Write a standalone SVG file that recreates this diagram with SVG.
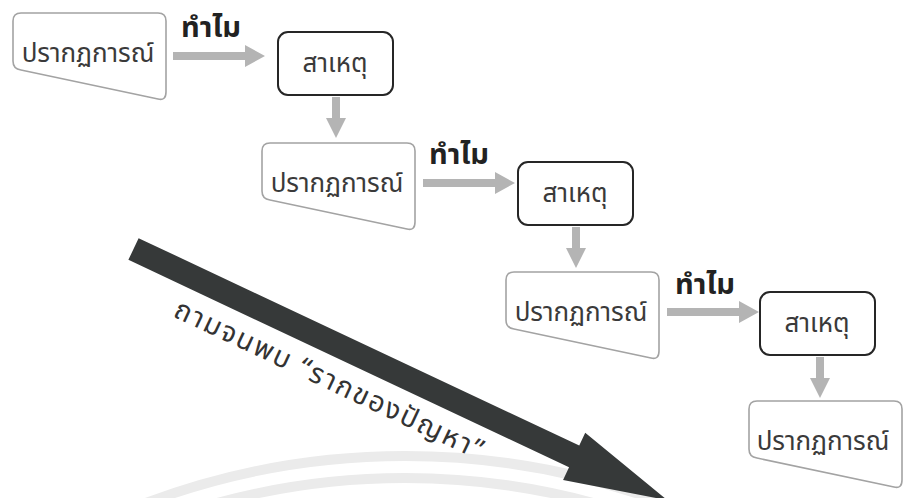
<svg xmlns="http://www.w3.org/2000/svg" width="903" height="498" viewBox="0 0 903 498">
<style>
.phen{fill:#fff;stroke:#a3a3a3;stroke-width:1.6}
.cause{fill:#fff;stroke:#262626;stroke-width:2}
.t{font-family:"Noto Sans Thai","Noto Sans","DejaVu Sans",sans-serif;fill:#3a3a3a;text-anchor:middle}
.pt{font-size:26px}
.ct{font-size:26px}
.why{font-family:"Noto Sans Thai","Noto Sans","DejaVu Sans",sans-serif;font-weight:bold;font-size:29px;fill:#222}
.ga{fill:#b4b4b4}
.arc{fill:none;stroke:#ebebeb;stroke-width:10}
</style>
<defs>
<path id="phenShape" d="M8,0 H145 Q153,0 153,8 V79 Q153,88 145,86 L8,57 Q0,56 0,48 V8 Q0,0 8,0 Z"/>
<path id="hArrow" d="M0,-4 H72 V-11 L92,0 L72,11 V4 H0 Z"/>
<path id="vArrow" d="M-4,0 V21 H-10 L0,41 L10,21 H4 V0 Z"/>
</defs>
<rect width="903" height="498" fill="#fff"/>
<g id="watermark">
<circle class="arc" cx="405" cy="1194" r="738"/>
<circle class="arc" cx="405" cy="1194" r="716"/>
</g>
<g id="connectors">
<use href="#hArrow" class="ga" x="173" y="56"/>
<use href="#vArrow" class="ga" x="336" y="97"/>
<use href="#hArrow" class="ga" x="423" y="183"/>
<use href="#vArrow" class="ga" x="576" y="227"/>
<use href="#hArrow" class="ga" x="667" y="312"/>
<use href="#vArrow" class="ga" x="820" y="357"/>
<text class="why" x="181" y="37">ทำไม</text>
<text class="why" x="429" y="164">ทำไม</text>
<text class="why" x="675" y="294">ทำไม</text>
</g>
<g id="bigArrow">
<path transform="translate(133.5,249) rotate(25.2)" d="M0,-12 H487 V-26 L590,0 L487,26 V12 H0 Z" fill="#363939"/>
<text transform="translate(172,316) rotate(25.2)" font-family="'Noto Sans Thai','Noto Sans','DejaVu Sans',sans-serif" font-size="28" letter-spacing="2" fill="#333">ถามจนพบ “รากของปัญหา”</text>
</g>
<g id="phen1"><use href="#phenShape" class="phen" x="13" y="13"/><text class="t pt" x="88" y="62">ปรากฏการณ์</text></g>
<g id="cause1"><rect class="cause" x="278" y="32" width="115" height="63" rx="10"/><text class="t ct" x="335" y="72">สาเหตุ</text></g>
<g id="phen2"><use href="#phenShape" class="phen" x="262" y="143"/><text class="t pt" x="337" y="192">ปรากฏการณ์</text></g>
<g id="cause2"><rect class="cause" x="518" y="162" width="115" height="63" rx="10"/><text class="t ct" x="575" y="202">สาเหตุ</text></g>
<g id="phen3"><use href="#phenShape" class="phen" x="506" y="272"/><text class="t pt" x="581" y="321">ปรากฏการณ์</text></g>
<g id="cause3"><rect class="cause" x="760" y="292" width="115" height="63" rx="10"/><text class="t ct" x="817" y="332">สาเหตุ</text></g>
<g id="phen4"><use href="#phenShape" class="phen" x="749" y="401"/><text class="t pt" x="823" y="450">ปรากฏการณ์</text></g>
</svg>
